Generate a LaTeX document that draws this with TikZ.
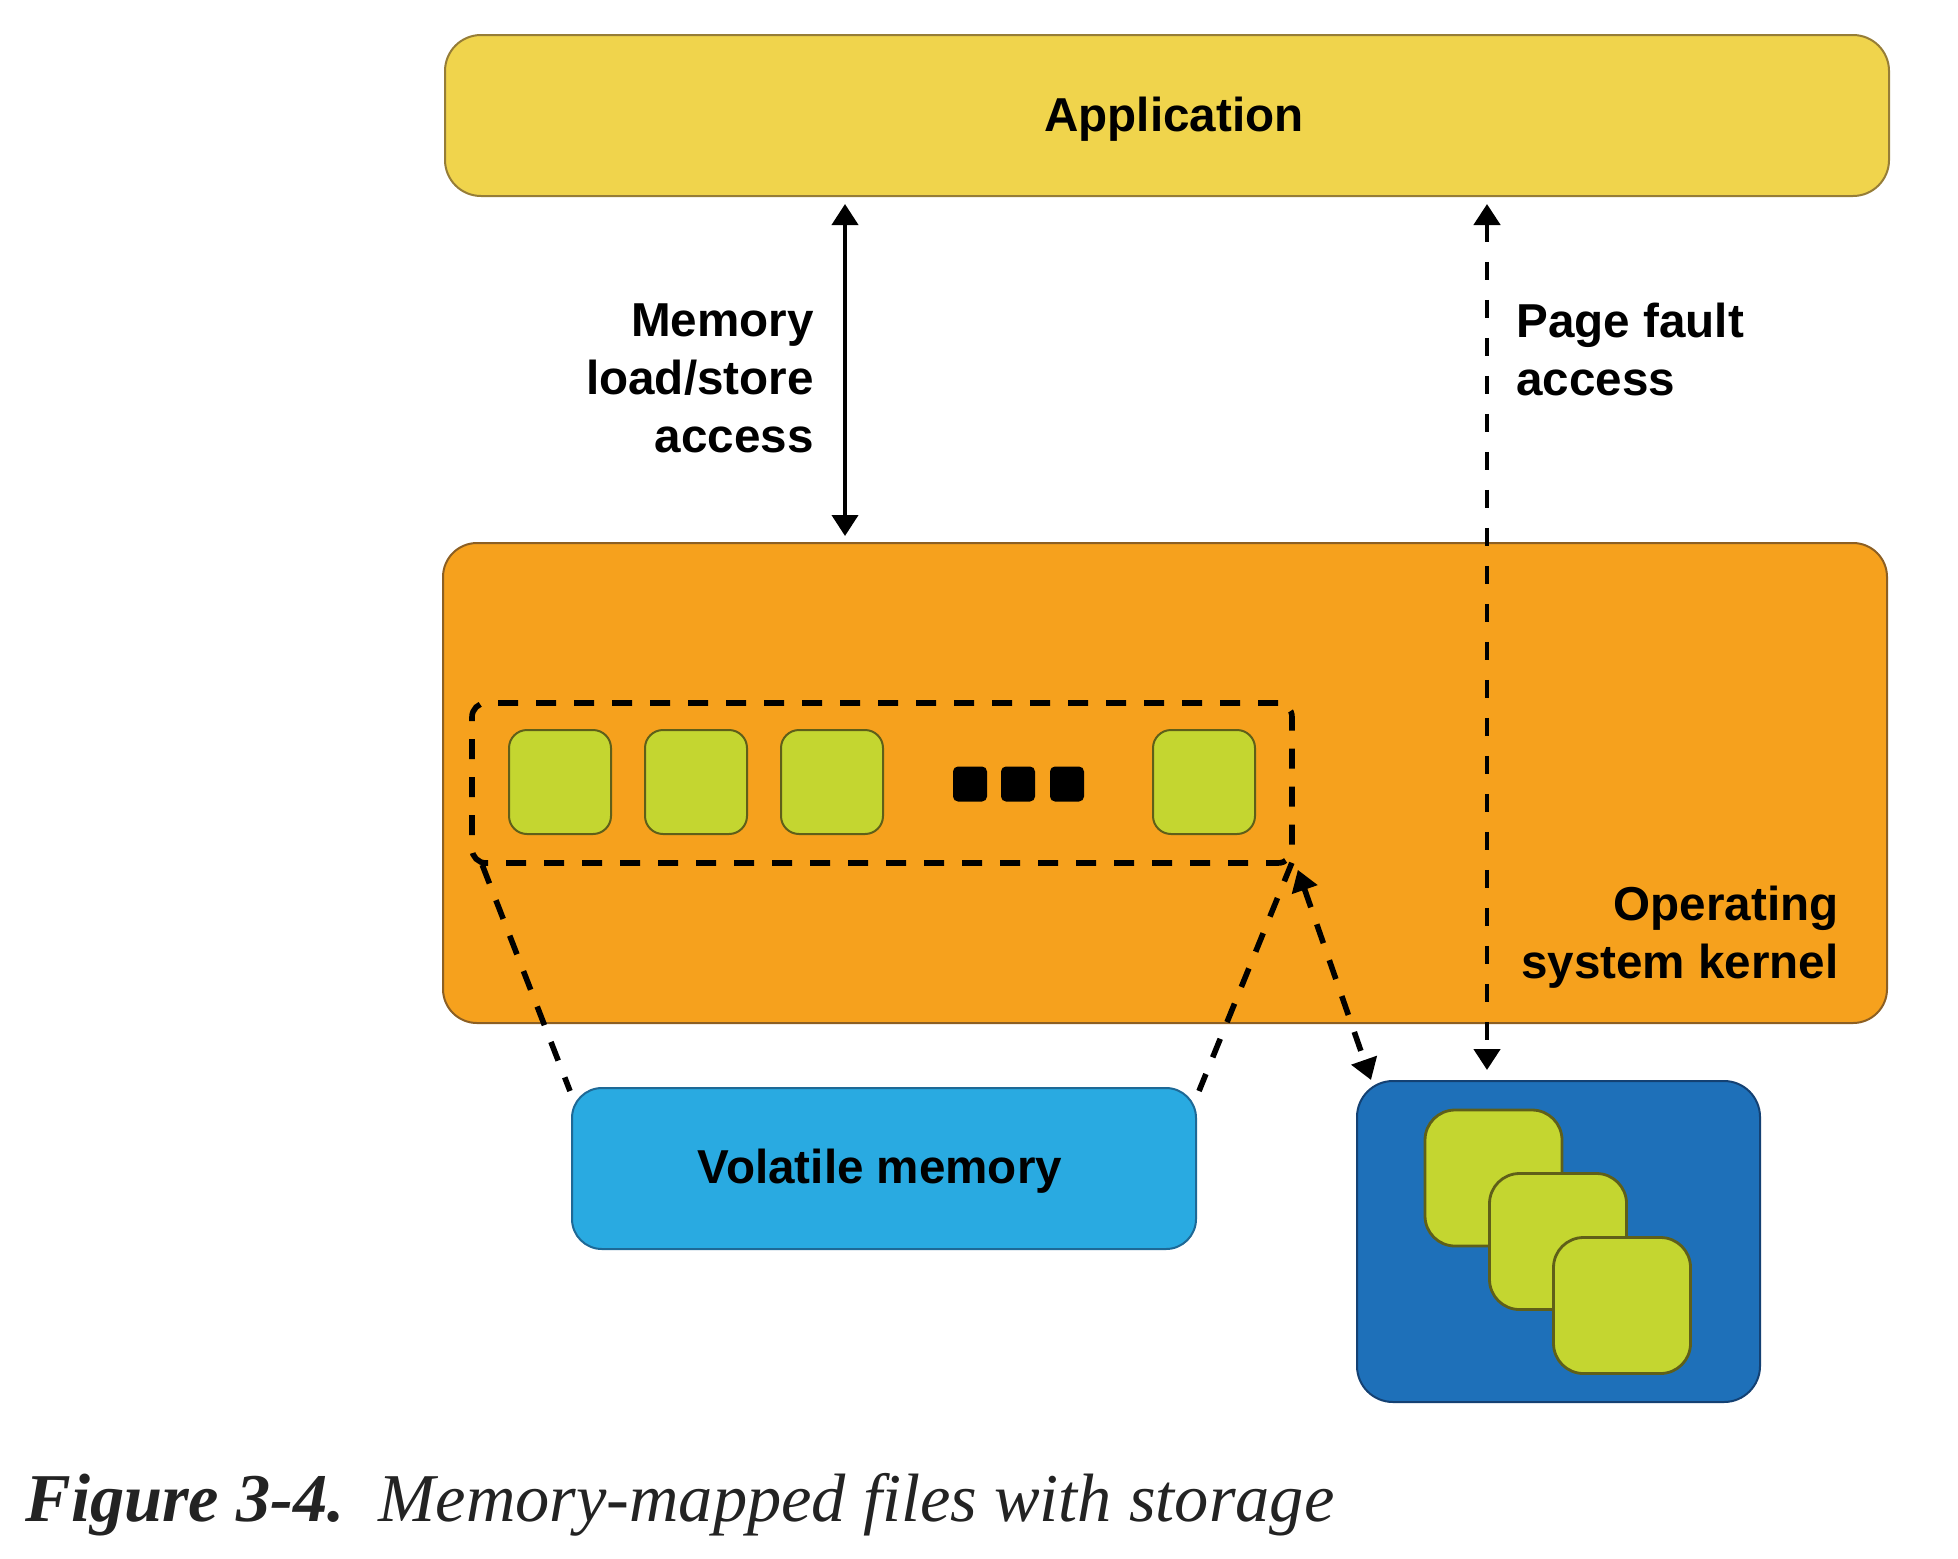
\documentclass[tikz,border=0pt]{standalone}
\usepackage{fontspec}
\setmainfont{Liberation Serif}
\newfontfamily\labelfont{Liberation Sans}
\usetikzlibrary{arrows.meta,calc}

\definecolor{appfill}{RGB}{240,212,76}
\definecolor{appline}{RGB}{150,125,55}
\definecolor{kernfill}{RGB}{246,161,29}
\definecolor{kernline}{RGB}{140,95,35}
\definecolor{pagefill}{RGB}{196,214,48}
\definecolor{pageline}{RGB}{95,95,25}
\definecolor{volfill}{RGB}{41,170,225}
\definecolor{volline}{RGB}{30,105,150}
\definecolor{storefill}{RGB}{30,112,185}
\definecolor{storeline}{RGB}{20,65,115}
\definecolor{captext}{RGB}{35,35,35}

\begin{document}
\begin{tikzpicture}[x=0.5pt,y=-0.5pt,
  panel/.style={draw, line width=1pt, inner sep=0pt, rounded corners=#1},
  appbox/.style={panel=18pt, fill=appfill, draw=appline,
    minimum width=722pt, minimum height=80.5pt},
  kernelbox/.style={panel=17pt, fill=kernfill, draw=kernline,
    minimum width=722pt, minimum height=240pt},
  pagebox/.style={panel=9pt, fill=pagefill, draw=pageline,
    minimum width=51pt, minimum height=52pt},
  bigpage/.style={panel=15pt, fill=pagefill, draw=pageline, line width=1.4pt,
    minimum width=68.5pt, minimum height=68pt},
  dotbox/.style={fill=black, rounded corners=2.5pt, inner sep=0pt,
    minimum width=17pt, minimum height=17.5pt},
  volbox/.style={panel=15pt, fill=volfill, draw=volline,
    minimum width=312pt, minimum height=80.5pt},
  storebox/.style={panel=18pt, fill=storefill, draw=storeline,
    minimum width=201.5pt, minimum height=160.5pt},
  groupbox/.style={draw, line width=2.8pt, dash pattern=on 10pt off 9pt,
    rounded corners=7pt, inner sep=0pt, minimum width=410pt, minimum height=80pt},
  tagtext/.style={font=\labelfont\bfseries\fontsize{23.8}{29}\selectfont,
    inner sep=0pt, text=black},
  tip/.tip={Triangle[length=10.5pt,width=13pt]},
  solidlink/.style={line width=2pt, tip-tip},
  faultlink/.style={line width=2.3pt, dash pattern=on 9pt off 10pt, tip-tip},
  maplink/.style={line width=2.8pt, dash pattern=on 10pt off 9pt}
]
\useasboundingbox (0,0) rectangle (1958,1558);

% layers
\node[appbox] (app) at (1167,115.5) {};
\node[tagtext] (applbl) at (1174,119) {Application};

\node[kernelbox] (kern) at (1165,783) {};
\node[tagtext, align=right, anchor=east] (kernlbl) at (1839,937)
  {Operating\\system kernel};

% mapped page cache inside the kernel
\node[groupbox] (cache) at (882,783) {};
\node[pagebox] (p1) at (560,782) {};
\node[pagebox] (p2) at (696,782) {};
\node[pagebox] (p3) at (832,782) {};
\node[dotbox] (d1) at (970,784) {};
\node[dotbox] (d2) at (1018,784) {};
\node[dotbox] (d3) at (1067,784) {};
\node[pagebox] (p4) at (1204,782) {};

% backing devices
\node[volbox] (vol) at (884,1168.5) {};
\node[tagtext] (vollbl) at (880,1171) {Volatile memory};

\node[storebox] (store) at (1558.5,1241.5) {};
\node[bigpage] (s1) at (1493.5,1178) {};
\node[bigpage] (s2) at (1558,1241.5) {};
\node[bigpage] (s3) at (1622,1305.5) {};

% access paths
\coordinate (memx) at (845,0);
\coordinate (pfx) at (1487,0);
\draw[solidlink, shorten <=3.5pt, shorten >=3pt]
  (app.south -| memx) -- (kern.north -| memx);
\node[tagtext, align=right, anchor=east] (memlbl) at (814,378)
  {Memory\\load/store\\access};

\draw[faultlink, shorten <=3.5pt, shorten >=5pt]
  (app.south -| pfx) -- (store.north -| pfx);
\node[tagtext, align=left, anchor=west] (pflbl) at (1516,349)
  {Page fault\\access};

% mapping of the cached pages onto the devices
\draw[maplink] ($(cache.south west)+(13,-1)$) -- ($(vol.north west)+(-1,4)$);
\draw[maplink] ($(cache.south east)+(-3,-3)$) -- ($(vol.north east)+(2,4)$);
\draw[maplink, tip-tip] ($(cache.south east)+(3,4)$) -- ($(store.north west)+(15,0)$);

% caption
\node[anchor=base west, inner sep=0pt, text=captext,
  font=\fontsize{34.2}{40}\selectfont] (cap) at (25,1521)
  {\textbf{\itshape Figure 3-4.}\hspace{0.5em}\itshape Memory-mapped files with storage};
\end{tikzpicture}
\end{document}
